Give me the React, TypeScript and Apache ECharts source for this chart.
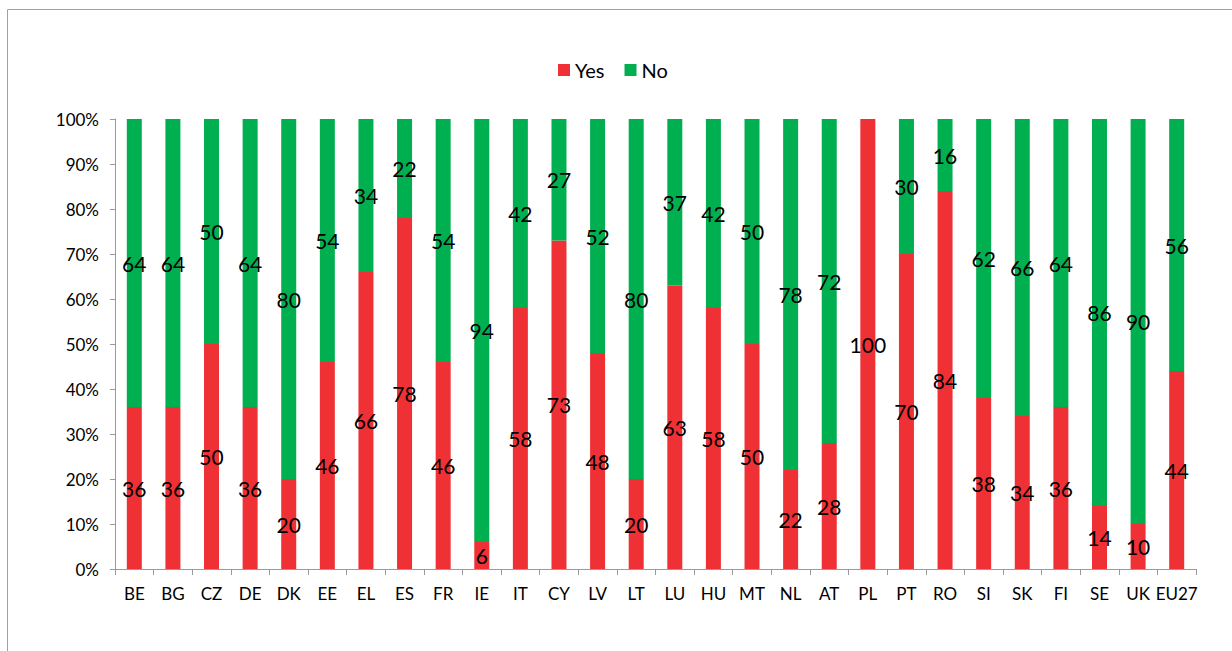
import React, { useEffect, useRef } from "react";
import * as echarts from "echarts";

const categories = ["BE", "BG", "CZ", "DE", "DK", "EE", "EL", "ES", "FR", "IE", "IT", "CY", "LV", "LT", "LU", "HU", "MT", "NL", "AT", "PL", "PT", "RO", "SI", "SK", "FI", "SE", "UK", "EU27"];
const yesValues = [36, 36, 50, 36, 20, 46, 66, 78, 46, 6, 58, 73, 48, 20, 63, 58, 50, 22, 28, 100, 70, 84, 38, 34, 36, 14, 10, 44];
const noValues = [64, 64, 50, 64, 80, 54, 34, 22, 54, 94, 42, 27, 52, 80, 37, 42, 50, 78, 72, 0, 30, 16, 62, 66, 64, 86, 90, 56];
const seriesNames = ["Yes", "No"];

const FONT = "Lato, 'Open Sans', sans-serif";

export default function App() {
  const ref = useRef<HTMLDivElement>(null);
  useEffect(() => {
    if (!ref.current) return;
    const chart = echarts.init(ref.current, null, { renderer: "svg" });
    const labelCfg = {
      show: true,
      position: "inside" as const,
      color: "#000",
      fontSize: 21,
      fontFamily: FONT,
      formatter: (p: any) => (p.value === 0 ? "" : String(p.value)),
    };
    chart.setOption({
      animation: false,
      backgroundColor: "#fff",
      textStyle: { fontFamily: FONT },
      graphic: [
        {
          type: "rect",
          shape: { x: 7.5, y: 9.5, width: 1300, height: 700 },
          style: { fill: "none", stroke: "#a0a0a0", lineWidth: 1 },
          silent: true,
        },
      ],
      legend: {
        data: seriesNames,
        top: 55,
        left: 553,
        itemWidth: 12,
        itemHeight: 12,
        itemGap: 20,
        icon: "rect",
        textStyle: { fontSize: 20, color: "#000", fontFamily: FONT },
      },
      grid: { left: 115, right: 36, top: 119, bottom: 82 },
      xAxis: {
        type: "category",
        data: categories,
        boundaryGap: true,
        axisLine: { lineStyle: { color: "#9a9a9a" } },
        axisTick: { show: true, length: 6, alignWithLabel: false, lineStyle: { color: "#9a9a9a" } },
        axisLabel: { color: "#000", fontSize: 17, margin: 16, interval: 0, fontFamily: FONT },
      },
      yAxis: {
        type: "value",
        min: 0,
        max: 100,
        interval: 10,
        axisLine: { show: true, lineStyle: { color: "#9a9a9a" } },
        axisTick: { show: true, length: 5, lineStyle: { color: "#9a9a9a" } },
        splitLine: { show: false },
        axisLabel: { color: "#000", fontSize: 17, margin: 16, formatter: "{value}%", fontFamily: FONT },
      },
      series: [
        {
          name: seriesNames[0],
          type: "bar",
          stack: "total",
          data: yesValues,
          barWidth: 15,
          itemStyle: { color: "#EF3035" },
          label: labelCfg,
        },
        {
          name: seriesNames[1],
          type: "bar",
          stack: "total",
          data: noValues,
          barWidth: 15,
          itemStyle: { color: "#00AF50" },
          label: labelCfg,
        },
      ],
    });
    return () => chart.dispose();
  }, []);
  return (
    <div
      ref={ref}
      style={{ position: "absolute", left: 0, top: 0, width: 1232, height: 651 }}
    />
  );
}
